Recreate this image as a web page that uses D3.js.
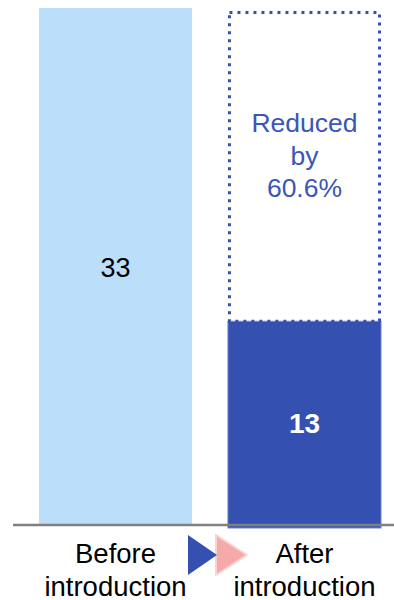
<!DOCTYPE html>
<html>
<head>
<meta charset="utf-8">
<script src="https://cdn.jsdelivr.net/npm/d3@7"></script>
<style>
  html, body { margin: 0; padding: 0; background: #ffffff; }
  svg { display: block; font-family: "Liberation Sans", Arial, sans-serif; }
</style>
</head>
<body>
<svg id="chart" width="394" height="600"></svg>
<script>
// Data
const categories = ["Before introduction", "After introduction"];
const labelLines = [["Before", "introduction"], ["After", "introduction"]];
const values = [33, 13];
const reductionText = ["Reduced", "by", "60.6%"];

const W = 394, H = 600;
const baseY = 525;
const svg = d3.select("#chart");

const x = d3.scaleBand()
  .domain(categories)
  .range([39, 381])
  .paddingInner(0.19)
  .paddingOuter(0);

const y = d3.scaleLinear()
  .domain([0, d3.max(values)])
  .range([baseY, 8]);

const lightBlue = "#bbdefb";
const darkBlue = "#3451b2";

// Bars
svg.selectAll("rect.bar")
  .data(values)
  .join("rect")
  .attr("class", "bar")
  .attr("x", (d, i) => x(categories[i]))
  .attr("width", x.bandwidth())
  .attr("y", d => y(d))
  .attr("height", (d, i) => baseY - y(d) + (i === 1 ? 3 : 0))
  .attr("fill", (d, i) => i === 0 ? lightBlue : darkBlue)
  .attr("stroke", (d, i) => i === 0 ? "none" : "#6f82cc")
  .attr("stroke-width", 1);

// Dotted outline showing the level before introduction
const x2 = x(categories[1]);
svg.append("rect")
  .attr("x", x2 + 1.5)
  .attr("y", y(values[0]) + 4.5)
  .attr("width", x.bandwidth() - 3)
  .attr("height", y(values[1]) - y(values[0]) - 4.5)
  .attr("fill", "none")
  .attr("stroke", darkBlue)
  .attr("stroke-width", 3)
  .attr("stroke-dasharray", "3,5");

// Baseline
svg.append("line")
  .attr("x1", 13).attr("x2", W)
  .attr("y1", baseY).attr("y2", baseY)
  .attr("stroke", "#808080")
  .attr("stroke-width", 2.6);

// Value labels
svg.append("text")
  .attr("x", x(categories[0]) + x.bandwidth() / 2)
  .attr("y", (y(values[0]) + baseY) / 2 + 10)
  .attr("text-anchor", "middle")
  .attr("font-size", 27)
  .attr("fill", "#000")
  .text(values[0]);

svg.append("text")
  .attr("x", x2 + x.bandwidth() / 2)
  .attr("y", (y(values[1]) + baseY) / 2 + 10)
  .attr("text-anchor", "middle")
  .attr("font-size", 28)
  .attr("font-weight", "bold")
  .attr("fill", "#fff")
  .text(values[1]);

// Reduction note
svg.append("text")
  .attr("text-anchor", "middle")
  .attr("font-size", 26.5)
  .attr("fill", "#3a56b8")
  .selectAll("tspan")
  .data(reductionText)
  .join("tspan")
  .attr("x", x2 + x.bandwidth() / 2)
  .attr("y", (d, i) => 132 + i * 32.5)
  .text(d => d);

// Category labels
labelLines.forEach((lines, i) => {
  svg.append("text")
    .attr("text-anchor", "middle")
    .attr("font-size", 27.5)
    .attr("fill", "#000")
    .selectAll("tspan")
    .data(lines)
    .join("tspan")
    .attr("x", x(categories[i]) + x.bandwidth() / 2)
    .attr("y", (d, j) => 563 + j * 33)
    .text(d => d);
});

// Transition arrows between the two categories
svg.append("path")
  .attr("d", "M216,535 L247,555 L216,575 Z")
  .attr("fill", "#f4aaa8")
  .attr("stroke", "#fbd3d2")
  .attr("stroke-width", 2)
  .attr("stroke-linejoin", "round");
svg.append("path")
  .attr("d", "M188,535 L217,555 L188,575 Z")
  .attr("fill", darkBlue);
</script>
</body>
</html>
